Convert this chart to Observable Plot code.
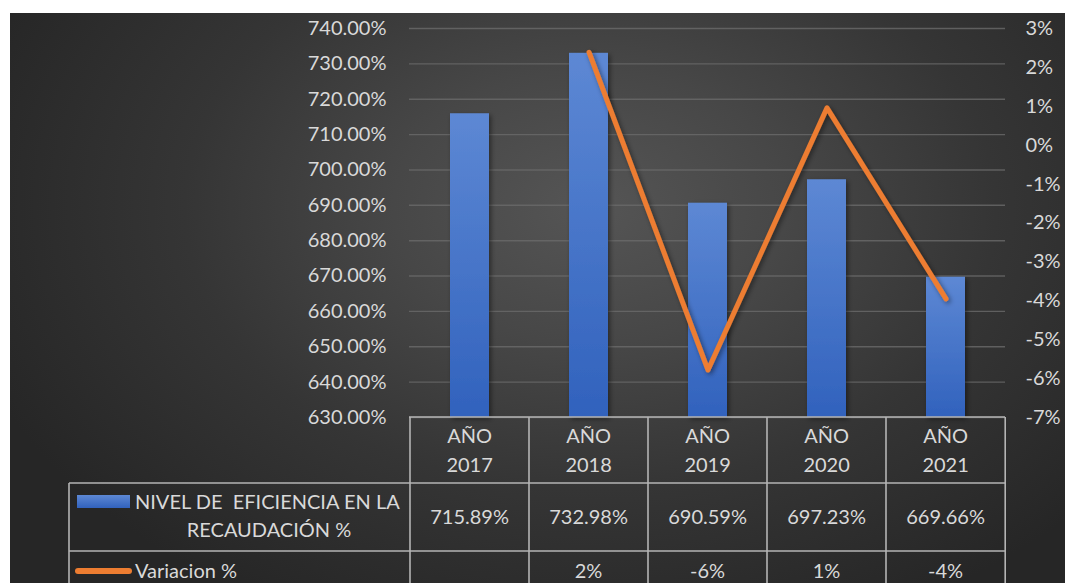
<!DOCTYPE html>
<html>
<head>
<meta charset="utf-8">
<script src="https://cdn.jsdelivr.net/npm/d3@7"></script>
<script src="https://cdn.jsdelivr.net/npm/@observablehq/plot@0.6"></script>
<style>
  html, body { margin: 0; padding: 0; background: #ffffff; }
  #chart {
    position: absolute; left: 10px; top: 13px; width: 1055px; height: 570px; overflow: hidden;
    background: radial-gradient(ellipse 62% 80% at 55% 34%, #555555 0%, #474747 30%, #353535 62%, #262626 100%);
  }
  #chart svg { display: block; }
</style>
</head>
<body>
<div id="chart"></div>
<script>
const years = ["2017", "2018", "2019", "2020", "2021"];
const yearLabels = ["AÑO\n2017", "AÑO\n2018", "AÑO\n2019", "AÑO\n2020", "AÑO\n2021"];
const eficiencia = [715.89, 732.98, 690.59, 697.23, 669.66];
const eficienciaLabels = ["715.89%", "732.98%", "690.59%", "697.23%", "669.66%"];
const variacion = [null, 2.39, -5.78, 0.96, -3.95];
const variacionLabels = ["", "2%", "-6%", "1%", "-4%"];
const leftTicks = [630, 640, 650, 660, 670, 680, 690, 700, 710, 720, 730, 740];
const rightTicks = [-7, -6, -5, -4, -3, -2, -1, 0, 1, 2, 3];
const seriesNames = ["NIVEL DE  EFICIENCIA EN LA", "RECAUDACIÓN %", "Variacion %"];

// secondary axis (-7%..3%) mapped onto primary (630..740)
const toPrimary = v => 630 + (v + 7) * 11;
const fromPrimary = p => (p - 630) / 11 - 7;

const rows = years.map((y, i) => ({year: y, ef: eficiencia[i], v: variacion[i], label: yearLabels[i], efl: eficienciaLabels[i], vl: variacionLabels[i]}));

const W = 1055, H = 570;
const mL = 399, mR = 60, mT = 15, mB = 166;
const textColor = "#d9d9d9";
const tableStroke = "#b4b4b4";

function defs() {
  const s = d3.create("svg:defs");
  const g = s.append("linearGradient").attr("id", "barGrad").attr("x1", 0).attr("y1", 0).attr("x2", 0).attr("y2", 1);
  g.append("stop").attr("offset", "0%").attr("stop-color", "#5d88d4");
  g.append("stop").attr("offset", "100%").attr("stop-color", "#3162bd");
  const f = s.append("filter").attr("id", "shadow").attr("x", "-30%").attr("y", "-30%").attr("width", "160%").attr("height", "160%");
  f.append("feDropShadow").attr("dx", 2).attr("dy", 2).attr("stdDeviation", 2.5).attr("flood-color", "#000").attr("flood-opacity", 0.45);
  return s.node();
}

function tableMark(index, scales, values, dims) {
  const x = scales.x;
  const bw = (dims.width - dims.marginLeft - dims.marginRight) / years.length;
  const x0 = dims.marginLeft, x1 = dims.width - dims.marginRight;
  const yTop = dims.height - dims.marginBottom;
  const row1 = yTop + 66, row2 = yTop + 134;
  const legendLeft = 59;
  const g = d3.create("svg:g").attr("fill", textColor);
  const line = (ax, ay, bx, by) => g.append("line").attr("x1", ax).attr("y1", ay).attr("x2", bx).attr("y2", by)
    .attr("stroke", tableStroke).attr("stroke-width", 1.6);
  line(x0, yTop, x1, yTop);
  line(legendLeft, row1, x1, row1);
  line(legendLeft, row2, x1, row2);
  line(legendLeft, row1, legendLeft, H + 5);
  for (let i = 0; i <= years.length; i++) {
    const xv = (i < years.length ? x(years[i]) : x(years[years.length - 1]) + bw);
    line(xv, yTop, xv, H + 5);
  }
  rows.forEach(r => {
    const cx = x(r.year) + bw / 2;
    const parts = r.label.split("\n");
    g.append("text").attr("x", cx).attr("y", yTop + 19).attr("text-anchor", "middle").attr("dy", "0.35em").text(parts[0]);
    g.append("text").attr("x", cx).attr("y", yTop + 48).attr("text-anchor", "middle").attr("dy", "0.35em").text(parts[1]);
    g.append("text").attr("x", cx).attr("y", row1 + 34).attr("text-anchor", "middle").attr("dy", "0.35em").text(r.efl);
    g.append("text").attr("x", cx).attr("y", row2 + 20).attr("text-anchor", "middle").attr("dy", "0.35em").text(r.vl);
  });
  // legend keys
  g.append("rect").attr("x", 67).attr("y", row1 + 12).attr("width", 53).attr("height", 13).attr("fill", "url(#barGrad)");
  g.append("text").attr("x", 125).attr("y", row1 + 19).attr("dy", "0.35em").attr("text-anchor", "start").style("white-space", "pre").text(seriesNames[0]);
  g.append("text").attr("x", 259).attr("y", row1 + 47).attr("dy", "0.35em").attr("text-anchor", "middle").text(seriesNames[1]);
  g.append("line").attr("x1", 68).attr("x2", 119).attr("y1", row2 + 20).attr("y2", row2 + 20)
    .attr("stroke", "#ED7D31").attr("stroke-width", 6).attr("stroke-linecap", "round");
  g.append("text").attr("x", 125).attr("y", row2 + 20).attr("dy", "0.35em").attr("text-anchor", "start").text(seriesNames[2]);
  return g.node();
}

const plot = Plot.plot({
  width: W, height: H,
  marginLeft: mL, marginRight: mR, marginTop: mT, marginBottom: mB,
  style: {background: "transparent", color: textColor, fontFamily: "Lato, 'Open Sans', sans-serif", fontSize: "20px"},
  x: {type: "band", domain: years, padding: 0, axis: null},
  y: {domain: [630, 740], axis: null},
  marks: [
    defs,
    Plot.gridY(leftTicks, {stroke: "#6a6a6a", strokeOpacity: 0.8, strokeWidth: 1.4}),
    Plot.axisY(leftTicks, {anchor: "left", tickSize: 0, tickPadding: 23, tickFormat: d => d.toFixed(2) + "%", label: null, fill: textColor}),
    Plot.axisY(rightTicks.map(toPrimary), {anchor: "right", tickSize: 0, tickPadding: 20, tickFormat: p => Math.round(fromPrimary(p)) + "%", label: null, fill: textColor}),
    Plot.barY(rows, {x: "year", y1: 630, y2: "ef", insetLeft: 40, insetRight: 40, fill: "url(#barGrad)"}),
    Plot.line(rows.filter(r => r.v != null), {x: "year", y: r => toPrimary(r.v), stroke: "#ED7D31", strokeWidth: 5, strokeLinecap: "round", strokeLinejoin: "round"}),
    tableMark
  ]
});

d3.select(plot).selectAll('g[aria-label="bar"], g[aria-label="line"]').attr("filter", "url(#shadow)");
document.getElementById("chart").appendChild(plot);
</script>
</body>
</html>
